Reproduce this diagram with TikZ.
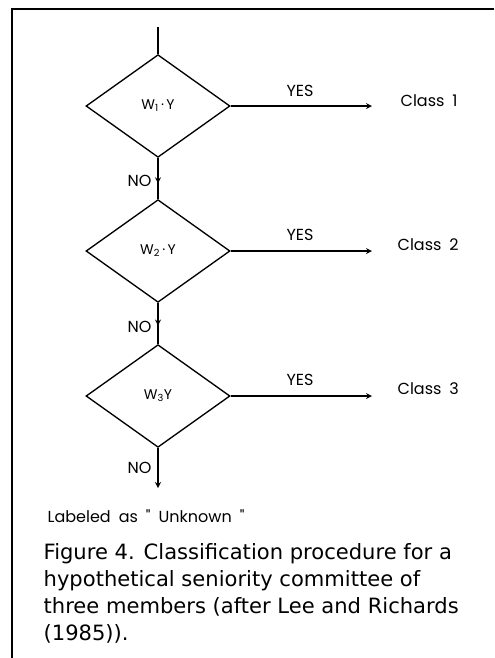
\documentclass[tikz,border=0pt]{standalone}
\usepackage{fontspec}
\setmainfont{Liberation Sans}
\newfontfamily\labfont{Poppins}
\newfontfamily\capfont{DejaVu Sans}
\usetikzlibrary{shapes.geometric,decorations.markings}

\tikzset{every picture/.style={line width=1pt}}
\tikzset{
  decision/.style={draw,shape=diamond,minimum width=108pt,minimum height=77pt,inner sep=0pt,font=\labfont\fontsize{10.5}{12}\selectfont},
  lbl/.style={inner sep=0.75pt,font=\labfont\fontsize{12}{14}\selectfont},
  midarrow/.style={postaction={decorate,decoration={markings,mark=at position #1 with {\arrow{stealth}}}}}
}

\begin{document}
\begin{tikzpicture}[x=0.75pt,y=0.75pt,yscale=-1,xscale=1]
\useasboundingbox (0,0) rectangle (494,658);

%Frame
\draw [line width=1.2pt]  (12,658) -- (12,9) -- (494,9) ;

%Shape: Diamond
\node [decision] (w1) at (158,106) {W\textsubscript{1}\,·\,Y};
%Shape: Diamond
\node [decision] (w2) at (158,251) {W\textsubscript{2}\,·\,Y};
%Shape: Diamond
\node [decision] (w3) at (158,396) {W\textsubscript{3}Y};

\coordinate (start) at (158,27);
\coordinate (c1) at (372,106);
\coordinate (c2) at (372,251);
\coordinate (c3) at (372,396);
\coordinate (out) at (158,488);

%Straight Lines
\draw    (start) -- (w1.north) ;
%Straight Lines
\draw  [-stealth]  (w1.east) -- (c1) ;
%Straight Lines
\draw  [-stealth]  (w2.east) -- (c2) ;
%Straight Lines
\draw  [-stealth]  (w3.east) -- (c3) ;
%Straight Lines
\draw  [midarrow=0.62]  (w1.south) -- (w2.north) ;
%Straight Lines
\draw  [midarrow=0.55]  (w2.south) -- (w3.north) ;
%Straight Lines
\draw  [-stealth]  (w3.south) -- (out) ;

% Text Node
\node [lbl,anchor=south] (yes1) at (300,98) {YES};
% Text Node
\node [lbl,anchor=south] (yes2) at (300,242) {YES};
% Text Node
\node [lbl,anchor=south] (yes3) at (300,387) {YES};
% Text Node
\node [lbl,anchor=west] (cl1) at (399,101) {Class\enspace 1};
% Text Node
\node [lbl,anchor=west] (cl2) at (396,245) {Class\enspace 2};
% Text Node
\node [lbl,anchor=west] (cl3) at (396,389) {Class\enspace 3};
% Text Node
\node [lbl,anchor=east] (no1) at (153,181) {NO};
% Text Node
\node [lbl,anchor=east] (no2) at (153,327) {NO};
% Text Node
\node [lbl,anchor=east] (no3) at (153,468) {NO};
% Text Node
\node [lbl,anchor=west] (unk) at (46,516) {Labeled\enspace as\enspace"\enspace Unknown\enspace"};
% Text Node
\node [anchor=north west,inner sep=0pt,align=left,font=\capfont\fontsize{15.8}{20.3}\selectfont] (cap) at (43,543) {Figure 4. Classification procedure for a\\hypothetical seniority committee of\\three members (after Lee and Richards\\(1985)).};

\end{tikzpicture}
\end{document}
